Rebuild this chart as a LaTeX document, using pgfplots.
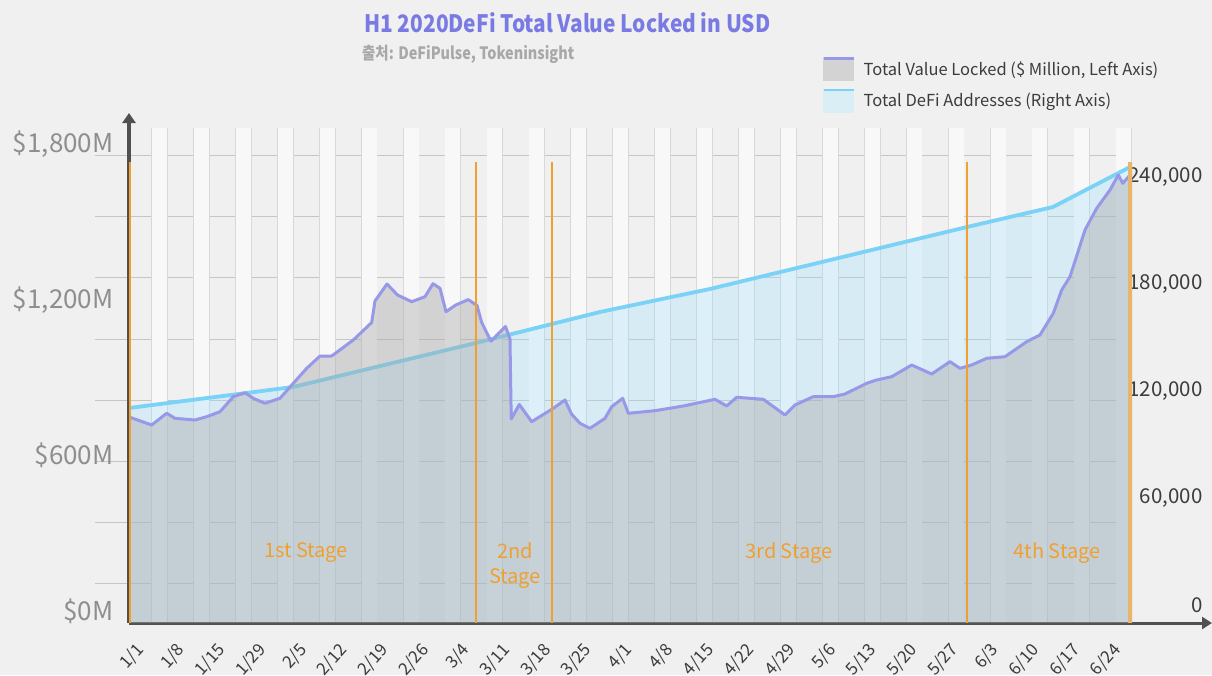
\documentclass[border=0pt]{standalone}
\usepackage{pgfplots}
\usepackage{pgfplotstable}
\pgfplotsset{compat=1.18}
\usepackage{fontspec}
\setmainfont{Noto Sans CJK KR}
\usetikzlibrary{arrows.meta}

\definecolor{bg}{HTML}{F0F0F0}
\definecolor{stripe}{HTML}{F8F8F8}
\definecolor{stripeedge}{HTML}{D8D8D8}
\definecolor{gridgray}{HTML}{C6C6C6}
\definecolor{addrfill}{RGB}{150,222,255}
\definecolor{addrline}{RGB}{122,210,246}
\definecolor{tvlfill}{RGB}{169,169,169}
\definecolor{tvlline}{RGB}{152,152,232}
\definecolor{stage}{HTML}{F0A030}
\definecolor{stageend}{HTML}{E9B56A}
\definecolor{axisdark}{HTML}{505050}
\definecolor{titleblue}{RGB}{122,122,228}
\definecolor{subgray}{HTML}{A8A8A8}
\definecolor{lblgray}{HTML}{8E8E8E}
\definecolor{txtdark}{HTML}{3C3C3C}
\definecolor{tvlleg}{RGB}{211,211,211}
\definecolor{addrleg}{RGB}{218,238,246}

\pgfplotstableread{
x y
-0.221 794.0
0.337 763.2
0.705 808.3
0.909 789.0
1.400 782.4
1.688 795.2
2.015 814.4
2.342 872.3
2.629 887.7
2.833 866.1
3.120 846.8
3.489 866.1
3.816 923.9
4.145 981.7
4.472 1029.1
4.759 1029.1
5.290 1090.8
5.742 1158.2
5.823 1241.1
6.118 1306.6
6.376 1264.2
6.725 1238.4
7.052 1257.7
7.248 1307.8
7.420 1290.1
7.568 1199.9
7.808 1225.7
8.115 1246.5
8.329 1223.8
8.445 1158.2
8.673 1086.2
9.029 1142.8
9.140 1094.6
9.170 786.3
9.369 842.2
9.673 775.9
10.204 827.5
10.491 859.5
10.651 805.6
10.860 769.7
11.106 750.4
11.474 789.0
11.639 833.7
11.909 866.1
12.047 808.3
12.703 818.3
13.398 836.4
14.177 862.2
14.464 836.4
14.710 869.9
15.364 862.2
15.897 801.7
16.143 840.3
16.592 872.3
17.084 872.3
17.371 882.7
17.904 923.9
18.150 936.6
18.518 949.3
19.010 994.4
19.501 959.7
19.951 1007.2
20.197 981.7
20.484 994.4
20.853 1020.3
21.302 1026.4
21.835 1084.2
22.162 1110.1
22.489 1193.7
22.695 1283.5
22.899 1334.8
23.268 1514.8
23.555 1598.4
23.882 1668.9
24.086 1726.8
24.194 1694.8
24.415 1733.3
}\tvl

\pgfplotstableread{
x y
-0.221 110467
3.81 122243
8.40 147477
11.35 164299
14.05 177196
20.37 211963
22.48 223178
24.423 246168
}\addr

\pgfplotsset{
  base/.style={scale only axis, width=1003pt, height=495pt,
    at={(129pt,-623pt)}, anchor=south west,
    xmin=-0.221, xmax=24.423},
}

\begin{document}
\begin{tikzpicture}
\useasboundingbox (0,0) rectangle (1212pt,-675pt);
\fill[bg] (0,0) rectangle (1212pt,-675pt);

% horizontal grid + left tick stubs
\begin{axis}[base, ymin=0, ymax=1907.9,
  axis line style={draw=none}, xtick=\empty,
  ytick={154.2,389.3,624.4,859.5,1094.6,1329.8,1564.9,1800},
  yticklabels={}, ymajorgrids, major grid style={gridgray, line width=1pt},
  ytick pos=left, tick align=outside, major tick length=34pt,
  ytick style={gridgray, line width=1pt}]
\end{axis}

% vertical stripes
\begin{axis}[base, ymin=0, ymax=1,
  axis line style={draw=none}, ytick=\empty,
  xtick={0.528,1.558,2.588,3.619,4.649,5.679,6.709,7.739,8.770,9.800,10.830,11.860,12.890,13.921,14.951,15.981,17.011,18.041,19.071,20.102,21.132,22.162,23.192,24.222},
  xticklabels={}, major tick length=0pt, xtick style={draw=none},
  xmajorgrids, major grid style={stripeedge, line width=16.6pt},
  extra x ticks={0.528,1.558,2.588,3.619,4.649,5.679,6.709,7.739,8.770,9.800,10.830,11.860,12.890,13.921,14.951,15.981,17.011,18.041,19.071,20.102,21.132,22.162,23.192,24.222},
  extra x tick labels={},
  extra x tick style={major grid style={stripe, line width=15pt}}]
\end{axis}

% addresses (right axis)
\begin{axis}[base, ymin=-10093, ymax=267477,
  axis x line=none, axis y line*=right, y axis line style={draw=none},
  ytick={0,60000,120000,180000,240000}, major tick length=0pt,
  ytick style={draw=none}, scaled y ticks=false,
  yticklabel style={font=\fontsize{20.5}{22}\selectfont, text=txtdark, anchor=east, xshift=74pt},
  /pgf/number format/fixed,
  /pgf/number format/1000 sep={,},
  /pgf/number format/assume math mode=true]
\addplot[fill=addrfill, fill opacity=0.27, draw=none] table {\addr} |- (axis cs:-0.221,-10093) -- cycle;
\addplot[addrline, line width=3.8pt, line join=round] table {\addr};
\end{axis}

% TVL (left axis)
\begin{axis}[base, ymin=0, ymax=1907.9,
  axis x line=bottom, axis y line=left,
  x axis line style={axisdark, line width=3pt, -{Triangle[length=10pt,width=12pt]}, shorten >=-80pt},
  y axis line style={axisdark, line width=4pt, -{Triangle[length=10pt,width=13pt]}, shorten >=-15pt},
  xtick={0,...,24},
  xticklabels={1/1,1/8,1/15,1/29,2/5,2/12,2/19,2/26,3/4,3/11,3/18,3/25,4/1,4/8,4/15,4/22,4/29,5/6,5/13,5/20,5/27,6/3,6/10,6/17,6/24},
  ytick={0,600,1200,1800},
  yticklabels={{\$0M},{\$600M},{\$1,200M},{\$1,800M}},
  major tick length=0pt, tick style={draw=none},
  yticklabel style={font=\fontsize{26}{28}\selectfont, text=lblgray, anchor=east, xshift=-12pt, yshift=12pt},
  xticklabel style={font=\fontsize{17}{19}\selectfont, text=txtdark, anchor=east, xshift=5pt, yshift=-21pt, rotate=48},
  legend style={at={(0.691,1.1434)}, anchor=north west, draw=none, fill=none,
    font=\fontsize{16.5}{18}\selectfont, text=txtdark, row sep=8pt, inner sep=0pt,
    nodes={inner sep=3pt}},
  legend cell align=left]
\addplot[fill=tvlfill, fill opacity=0.41, draw=none, forget plot] table {\tvl} \closedcycle;
\addplot[tvlline, line width=3pt, line join=round, forget plot] table {\tvl};
% stage boundaries
\addplot[stage, line width=2.5pt, forget plot] coordinates {(-0.196,0) (-0.196,1777)};
\addplot[stage, line width=2.5pt, forget plot] coordinates {(8.30,0) (8.30,1777)};
\addplot[stage, line width=2.5pt, forget plot] coordinates {(10.17,0) (10.17,1777)};
\addplot[stage, line width=2.5pt, forget plot] coordinates {(20.37,0) (20.37,1777)};
\addplot[stageend, line width=5pt, forget plot] coordinates {(24.39,0) (24.39,1777)};
\node[text=stage, font=\fontsize{20}{24}\selectfont] at (axis cs:4.128,269.8) {1st Stage};
\node[text=stage, font=\fontsize{20}{25}\selectfont, align=center] at (axis cs:9.263,221.6) {2nd\\Stage};
\node[text=stage, font=\fontsize{20}{24}\selectfont] at (axis cs:15.995,269.8) {3rd Stage};
\node[text=stage, font=\fontsize{20}{24}\selectfont] at (axis cs:22.58,269.8) {4th Stage};
\addlegendimage{legend image code/.code={
  \fill[tvlleg] (0pt,-11.5pt) rectangle (30pt,11.5pt);
  \draw[tvlline, line width=2.5pt] (0pt,10.5pt) -- (30pt,10.5pt);
  \path (37pt,0pt);}}
\addlegendentry{Total Value Locked (\$ Million, Left Axis)}
\addlegendimage{legend image code/.code={
  \fill[addrleg] (0pt,-11.5pt) rectangle (30pt,11.5pt);
  \draw[addrline, line width=2.5pt] (0pt,10.5pt) -- (30pt,10.5pt);
  \path (37pt,0pt);}}
\addlegendentry{Total DeFi Addresses (Right Axis)}
\end{axis}

\node[anchor=west, inner sep=0pt, text=titleblue, font=\bfseries\fontsize{24}{28}\selectfont] at (364pt,-23pt) {\scalebox{0.87}[1]{H1 2020DeFi Total Value Locked in USD}};
\node[anchor=west, inner sep=0pt, text=subgray, font=\bfseries\fontsize{17}{20}\selectfont] at (362pt,-54pt) {\scalebox{0.85}[1]{출처: DeFiPulse, Tokeninsight}};
\end{tikzpicture}
\end{document}
